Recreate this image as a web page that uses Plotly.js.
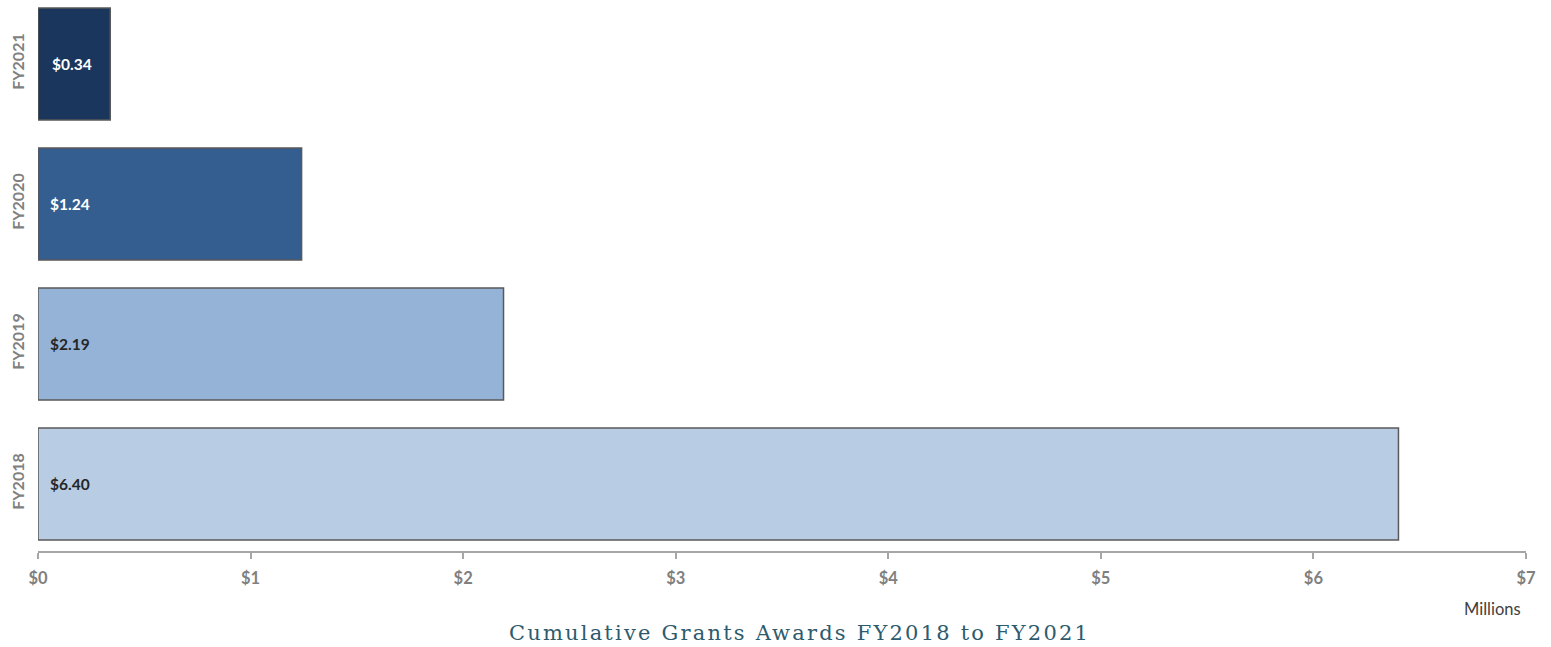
<!DOCTYPE html>
<html>
<head>
<meta charset="utf-8">
<script src="https://cdn.plot.ly/plotly-3.0.1.min.js"></script>
<style>
html,body{margin:0;padding:0;background:#fff;}
#chart{width:1551px;height:647px;}
#chart g.annotation:last-of-type text, #chart g.annotation:last-of-type tspan { letter-spacing: 2.2px; }
</style>
</head>
<body>
<div id="chart"></div>
<script>
var categories = ["FY2018", "FY2019", "FY2020", "FY2021"];
var values = [6.40, 2.19, 1.24, 0.34];
var valueLabels = ["$6.40", "$2.19", "$1.24", "$0.34"];
var barColors = ["#b8cce4", "#95b3d7", "#345e8f", "#1b365d"];
var labelColors = ["#262626", "#262626", "#ffffff", "#ffffff"];
var tickVals = [0, 1, 2, 3, 4, 5, 6, 7];
var tickLabels = ["$0", "$1", "$2", "$3", "$4", "$5", "$6", "$7"];
var chartTitle = "Cumulative Grants Awards FY2018 to FY2021";

var trace = {
  type: "bar",
  orientation: "h",
  x: values,
  y: categories,
  marker: {color: barColors, line: {color: "#595959", width: 1.5}},
  hoverinfo: "none"
};

var annotations = categories.map(function(c, i) {
  return {
    x: 0, y: c, xref: "x", yref: "y",
    text: "<b>" + valueLabels[i] + "</b>",
    showarrow: false, xanchor: "left", yanchor: "middle",
    xshift: i === 3 ? 12 : 10,
    font: {family: "Lato, 'Open Sans', sans-serif", size: 15.5, color: labelColors[i]}
  };
});
annotations.push({
  x: 1, y: 0, xref: "paper", yref: "paper",
  text: "Millions", showarrow: false, xanchor: "right", yanchor: "top",
  xshift: -3, yshift: -46,
  font: {family: "Lato, 'Open Sans', sans-serif", size: 16.5, color: "#404040"}
});
annotations.push({
  x: 0.5, y: 0, xref: "paper", yref: "paper",
  text: chartTitle,
  showarrow: false, xanchor: "center", yanchor: "top",
  xshift: 17, yshift: -68,
  font: {family: "'DejaVu Serif', 'Liberation Serif', serif", size: 21, color: "#2d5b6d"}
});

var layout = {
  width: 1551, height: 647,
  margin: {l: 38, r: 25, t: 0, b: 96},
  paper_bgcolor: "#ffffff", plot_bgcolor: "#ffffff",
  showlegend: false,
  bargap: 0.2,
  xaxis: {
    range: [0, 7], tickvals: tickVals, ticktext: tickLabels,
    showgrid: false, zeroline: false,
    showline: true, linecolor: "#a6a6a6", linewidth: 2,
    ticks: "outside", ticklen: 6, tickwidth: 2, tickcolor: "#a6a6a6",
    tickfont: {family: "Lato, 'Open Sans', sans-serif", size: 16.5, color: "#808080", weight: "bold"},
    ticklabelstandoff: 5,
    fixedrange: true
  },
  yaxis: {
    type: "category",
    range: [-0.479, 3.457],
    showgrid: false, zeroline: false, showline: false,
    ticks: "", tickangle: -90,
    tickfont: {family: "Lato, 'Open Sans', sans-serif", size: 16, color: "#808080", weight: "bold"},
    ticklabelstandoff: 10,
    fixedrange: true
  },
  annotations: annotations
};

Plotly.newPlot("chart", [trace], layout, {displayModeBar: false, staticPlot: true});
</script>
</body>
</html>
